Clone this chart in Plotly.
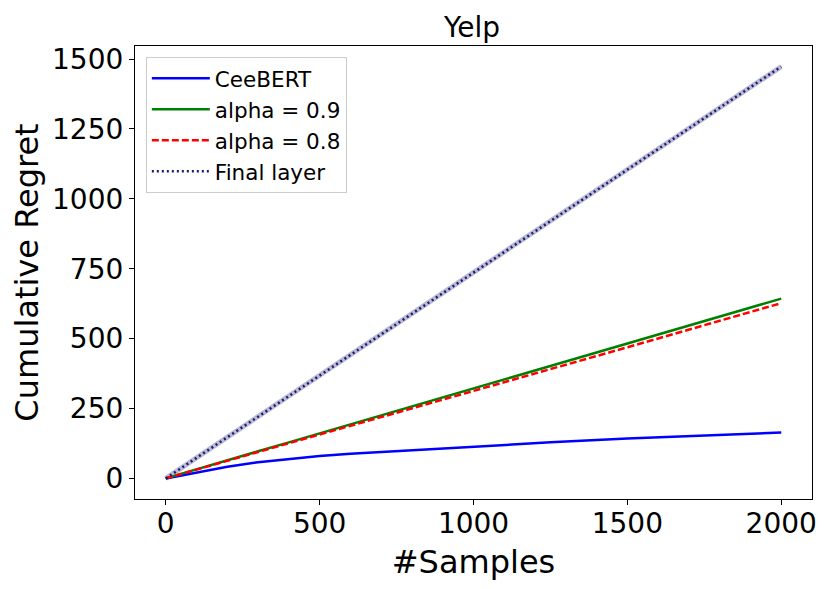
import plotly.graph_objects as go

# Values
samples = [0, 100, 200, 300, 400, 500, 600, 750, 1000, 1250, 1500, 1750, 2000]
ceebert = [0, 22, 42, 58, 70, 80, 88, 98, 114, 129, 143, 154, 164]
alpha_09 = [0, 33, 65, 97, 129, 161, 193, 242, 322, 402, 482, 562, 643]
alpha_08 = [0, 32, 64, 95, 126, 157, 188, 236, 313, 391, 469, 548, 627]
final_layer = [0, 74, 147, 221, 295, 368, 442, 552, 736, 921, 1105, 1289, 1473]

font_family = "DejaVu Sans"

fig = go.Figure()

# light band under the final layer curve
fig.add_trace(go.Scatter(x=samples, y=final_layer, mode='lines', showlegend=False,
                         hoverinfo='skip', line=dict(color='rgba(25,25,112,0.3)', width=5)))

fig.add_trace(go.Scatter(x=samples, y=ceebert, mode='lines', name='CeeBERT',
                         line=dict(color='#0000ff', width=2.5)))
fig.add_trace(go.Scatter(x=samples, y=alpha_09, mode='lines', name='alpha = 0.9',
                         line=dict(color='#008000', width=2.5)))
fig.add_trace(go.Scatter(x=samples, y=alpha_08, mode='lines', name='alpha = 0.8',
                         line=dict(color='#ff0000', width=2.5, dash='7px,3px')))
fig.add_trace(go.Scatter(x=samples, y=final_layer, mode='lines', name='Final layer',
                         line=dict(color='#191970', width=2.5, dash='2px,3px')))

axis_style = dict(showline=True, linecolor='black', linewidth=1.2, mirror=True,
                  ticks='outside', ticklen=5, tickwidth=1.2, tickcolor='black',
                  showgrid=False, zeroline=False,
                  tickfont=dict(family=font_family, size=28, color='black'))

# the page adds an 8px body margin, so margins are 8px less than the target
fig.update_layout(
    width=830, height=589, autosize=False,
    margin=dict(l=125, r=26, t=38, b=98),
    plot_bgcolor='white', paper_bgcolor='white',
    title=dict(text='Yelp', x=0.559, xanchor='center', y=0.968, yanchor='middle',
               font=dict(family=font_family, size=28, color='black')),
    xaxis=dict(range=[-100, 2100], tickvals=[0, 500, 1000, 1500, 2000],
               ticklabelstandoff=-6,
               title=dict(text='#Samples', standoff=11,
                          font=dict(family=font_family, size=32, color='black')),
               **axis_style),
    yaxis=dict(range=[-73.6, 1546.6], tickvals=[0, 250, 500, 750, 1000, 1250, 1500],
               title=dict(text='Cumulative Regret', standoff=10,
                          font=dict(family=font_family, size=32, color='black')),
               **axis_style),
    legend=dict(x=0.016, y=0.976, xanchor='left', yanchor='top', itemwidth=58,
                bgcolor='rgba(255,255,255,0.8)', bordercolor='#cccccc', borderwidth=1,
                font=dict(family=font_family, size=21.5, color='black')),
)

fig.write_html("out.html")
